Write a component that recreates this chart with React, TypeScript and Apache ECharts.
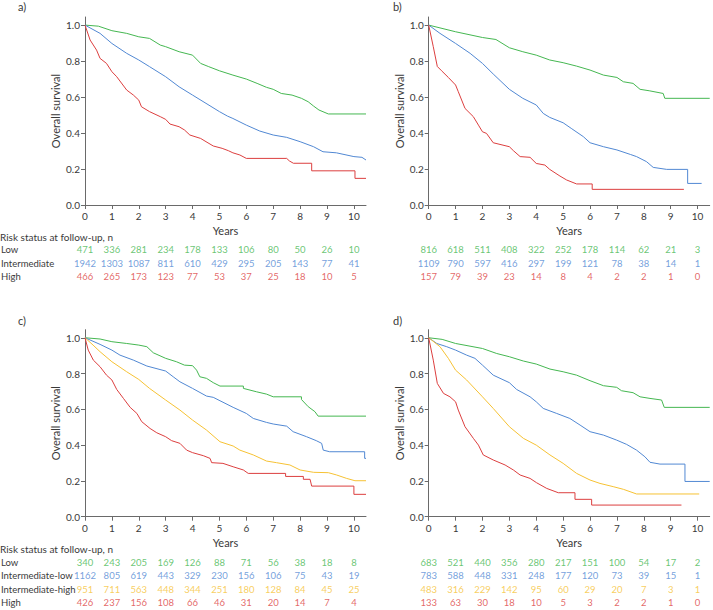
import React, { useEffect, useRef } from "react";
import * as echarts from "echarts";

// ---------- axis ticks ----------
const yearTicks = [0, 1, 2, 3, 4, 5, 6, 7, 8, 9, 10];
const survTicks = [0, 0.2, 0.4, 0.6, 0.8, 1.0];

// ---------- panel a curves [years, survival] ----------
const aLow = [[0,1],[0.5,0.994],[1,0.969],[1.55,0.954],[2,0.935],[2.4,0.926],[2.8,0.889],[3,0.88],[3.5,0.852],[4,0.833],[4.3,0.787],[4.6,0.769],[5,0.746],[5.5,0.722],[6,0.7],[6.4,0.676],[6.75,0.654],[7,0.643],[7.3,0.62],[7.7,0.611],[8.05,0.593],[8.3,0.574],[8.5,0.55],[8.7,0.528],[9.05,0.506],[10.45,0.506]];
const aInt = [[0,1],[0.56,0.954],[1,0.898],[1.55,0.843],[2,0.806],[2.4,0.769],[3,0.713],[3.5,0.657],[4,0.611],[4.5,0.565],[5,0.519],[5.3,0.494],[5.5,0.481],[6,0.444],[6.5,0.411],[7,0.389],[7.5,0.376],[8,0.352],[8.5,0.324],[8.85,0.296],[9.35,0.29],[10,0.269],[10.3,0.265],[10.45,0.25]];
const aHigh = [[0,1],[0.19,0.917],[0.43,0.861],[0.56,0.815],[0.8,0.787],[1,0.741],[1.18,0.713],[1.55,0.639],[1.8,0.611],[2,0.583],[2.1,0.546],[2.4,0.519],[2.8,0.491],[3,0.476],[3.16,0.45],[3.5,0.435],[3.7,0.417],[3.9,0.389],[4.3,0.37],[4.5,0.352],[4.77,0.328],[5.1,0.315],[5.33,0.302],[5.5,0.29],[5.76,0.278],[6,0.259],[7.5,0.259],[7.6,0.245],[7.75,0.232],[8.43,0.232],[8.43,0.19],[10.04,0.19],[10.04,0.148],[10.45,0.148]];

// ---------- panel b curves ----------
const bLow = [[0,1],[1,0.963],[2,0.931],[2.5,0.92],[3,0.874],[3.5,0.852],[4,0.833],[4.5,0.806],[5,0.791],[5.5,0.772],[6,0.75],[6.5,0.722],[7,0.709],[7.24,0.685],[7.6,0.676],[7.86,0.643],[8.2,0.635],[8.72,0.62],[8.78,0.593],[10.45,0.593]];
const bInt = [[0,1],[0.42,0.954],[1,0.898],[1.54,0.843],[2,0.787],[2.4,0.728],[3,0.643],[3.5,0.593],[4,0.556],[4.26,0.509],[4.5,0.487],[5,0.457],[5.3,0.426],[5.75,0.38],[6,0.346],[6.5,0.324],[7,0.306],[7.5,0.281],[7.73,0.269],[8.1,0.241],[8.35,0.209],[8.85,0.198],[9.63,0.198],[9.63,0.12],[10.15,0.12]];
const bHigh = [[0,1],[0.17,0.88],[0.32,0.77],[0.48,0.746],[0.73,0.709],[1,0.667],[1.1,0.63],[1.35,0.537],[1.66,0.491],[1.85,0.444],[2,0.407],[2.15,0.398],[2.4,0.346],[3,0.324],[3.15,0.302],[3.4,0.269],[3.77,0.265],[4,0.231],[4.32,0.222],[4.5,0.198],[4.88,0.161],[5.13,0.139],[5.5,0.117],[6.08,0.117],[6.08,0.087],[9.49,0.087]];

// ---------- panel c curves ----------
const cLow = [[0,1],[0.56,0.993],[1,0.978],[1.55,0.968],[2,0.959],[2.3,0.95],[2.54,0.916],[3,0.885],[3.4,0.866],[3.7,0.847],[4,0.844],[4.15,0.819],[4.27,0.782],[4.52,0.773],[4.77,0.749],[5.02,0.73],[5.89,0.73],[5.89,0.717],[6.38,0.698],[6.75,0.685],[7,0.67],[8.05,0.67],[8.05,0.655],[8.3,0.615],[8.55,0.587],[8.67,0.562],[10.45,0.562]];
const cIntLow = [[0,1],[0.56,0.963],[1,0.931],[1.3,0.903],[1.8,0.875],[2.3,0.842],[3,0.814],[3.28,0.782],[3.53,0.754],[4,0.717],[4.52,0.674],[4.77,0.667],[5.02,0.648],[5.51,0.611],[6,0.577],[6.26,0.549],[6.75,0.527],[7,0.518],[7.5,0.506],[7.74,0.475],[8.24,0.447],[8.6,0.425],[8.8,0.41],[8.86,0.372],[9.1,0.363],[10.4,0.363],[10.4,0.326],[10.45,0.326]];
const cIntHigh = [[0,1],[0.3,0.959],[0.56,0.922],[1,0.866],[1.55,0.81],[2,0.767],[2.4,0.717],[3,0.652],[3.53,0.596],[4,0.54],[4.52,0.484],[5.02,0.419],[5.51,0.395],[5.76,0.372],[6.26,0.345],[6.75,0.311],[7.12,0.302],[7.62,0.289],[8,0.261],[8.5,0.248],[9.05,0.246],[9.36,0.233],[9.73,0.214],[10.04,0.201],[10.45,0.201]];
const cHigh = [[0,1],[0.12,0.931],[0.31,0.875],[0.56,0.838],[0.8,0.791],[1,0.764],[1.18,0.711],[1.43,0.661],[1.68,0.611],[1.93,0.577],[2.11,0.531],[2.42,0.493],[2.67,0.469],[3,0.447],[3.22,0.425],[3.53,0.41],[3.78,0.372],[4,0.358],[4.4,0.341],[4.65,0.326],[4.71,0.302],[5.13,0.298],[5.51,0.279],[5.89,0.261],[6.07,0.242],[7.46,0.242],[7.46,0.225],[8.12,0.225],[8.12,0.209],[8.37,0.209],[8.43,0.171],[10,0.171],[10,0.125],[10.45,0.125]];

// ---------- panel d curves ----------
const dLow = [[0,1],[0.5,0.991],[1,0.968],[2,0.94],[2.53,0.912],[3,0.894],[3.52,0.87],[4,0.853],[4.51,0.825],[5,0.81],[5.5,0.791],[6,0.76],[6.5,0.732],[6.99,0.723],[7.17,0.704],[7.6,0.693],[7.86,0.67],[8.23,0.661],[8.66,0.652],[8.76,0.611],[10.45,0.611]];
const dIntLow = [[0,1],[0.3,0.968],[0.67,0.95],[1,0.931],[1.41,0.903],[1.72,0.885],[2,0.847],[2.4,0.791],[3,0.749],[3.27,0.711],[3.77,0.67],[4,0.642],[4.26,0.605],[4.76,0.577],[5.25,0.549],[5.63,0.512],[6,0.475],[6.5,0.456],[6.99,0.428],[7.36,0.404],[7.73,0.372],[8.04,0.335],[8.23,0.304],[8.6,0.294],[9.53,0.294],[9.53,0.197],[10.45,0.197]];
const dIntHigh = [[0,1],[0.42,0.95],[0.73,0.885],[1,0.819],[1.41,0.764],[2,0.67],[2.4,0.605],[3,0.503],[3.52,0.438],[4,0.4],[4.51,0.345],[5,0.298],[5.5,0.242],[6,0.205],[6.37,0.186],[6.86,0.168],[7.24,0.153],[7.73,0.127],[10.06,0.127]];
const dHigh = [[0,1],[0.17,0.875],[0.32,0.745],[0.55,0.689],[0.79,0.67],[1,0.642],[1.1,0.596],[1.35,0.503],[1.66,0.438],[1.85,0.4],[2.03,0.345],[2.4,0.317],[2.84,0.289],[3.15,0.261],[3.4,0.233],[3.77,0.214],[4.01,0.19],[4.39,0.158],[4.82,0.134],[5.44,0.134],[5.44,0.097],[6.06,0.097],[6.06,0.065],[9.4,0.065]];

// ---------- risk tables (numbers at risk at years 0..10) ----------
const rowsAB = ["Low", "Intermediate", "High"];
const rowsCD = ["Low", "Intermediate-low", "Intermediate-high", "High"];
const riskALow = [471, 336, 281, 234, 178, 133, 106, 80, 50, 26, 10];
const riskAInt = [1942, 1303, 1087, 811, 610, 429, 295, 205, 143, 77, 41];
const riskAHigh = [466, 265, 173, 123, 77, 53, 37, 25, 18, 10, 5];
const riskBLow = [816, 618, 511, 408, 322, 252, 178, 114, 62, 21, 3];
const riskBInt = [1109, 790, 597, 416, 297, 199, 121, 78, 38, 14, 1];
const riskBHigh = [157, 79, 39, 23, 14, 8, 4, 2, 2, 1, 0];
const riskCLow = [340, 243, 205, 169, 126, 88, 71, 56, 38, 18, 8];
const riskCIntLow = [1162, 805, 619, 443, 329, 230, 156, 106, 75, 43, 19];
const riskCIntHigh = [951, 711, 563, 448, 344, 251, 180, 128, 84, 45, 25];
const riskCHigh = [426, 237, 156, 108, 66, 46, 31, 20, 14, 7, 4];
const riskDLow = [683, 521, 440, 356, 280, 217, 151, 100, 54, 17, 2];
const riskDIntLow = [783, 588, 448, 331, 248, 177, 120, 73, 39, 15, 1];
const riskDIntHigh = [483, 316, 229, 142, 95, 60, 29, 20, 7, 3, 1];
const riskDHigh = [133, 63, 30, 18, 10, 5, 3, 2, 2, 1, 0];

const GREEN = "#45b751";
const BLUE = "#5188d3";
const YELLOW = "#f6c234";
const RED = "#dc3f3f";
const FONT = "Lato, 'Noto Sans', sans-serif";
const TXT = "#3a3a3a";
const AX = "#6a6a6a";

export default function App() {
  const ref = useRef<HTMLDivElement>(null);
  useEffect(() => {
    if (!ref.current) return;
    const chart = echarts.init(ref.current, undefined, { renderer: "svg" });

    const XMAX = 10.45;
    const YMAX = 1.045;
    const LEFT_L = 85;
    const LEFT_R = 428.7;
    const W = 281;
    const plotGrids = [
      { left: LEFT_L, top: 17, width: W, height: 188 },
      { left: LEFT_R, top: 17, width: W, height: 188 },
      { left: LEFT_L, top: 329.7, width: W, height: 187 },
      { left: LEFT_R, top: 329.7, width: W, height: 187 },
    ];
    const tableGrids = [
      { left: LEFT_L, top: 243.3, width: W, height: 40 },
      { left: LEFT_R, top: 243.3, width: W, height: 40 },
      { left: LEFT_L, top: 555.6, width: W, height: 53.8 },
      { left: LEFT_R, top: 555.6, width: W, height: 53.8 },
    ];
    const grid = [...plotGrids, ...tableGrids].map((g) => ({
      ...g,
      containLabel: false,
      outerBoundsMode: "none",
    }));

    const xAxis: any[] = [];
    const yAxis: any[] = [];
    for (let i = 0; i < 4; i++) {
      xAxis.push({
        type: "value",
        gridIndex: i,
        min: 0,
        max: XMAX,
        name: "Years",
        nameLocation: "middle",
        nameGap: 20,
        nameTextStyle: { fontFamily: FONT, fontSize: 11, color: TXT },
        splitLine: { show: false },
        axisLine: { show: true, onZero: false, lineStyle: { color: AX, width: 1 } },
        axisTick: { show: true, length: 4, lineStyle: { color: AX }, customValues: yearTicks },
        axisLabel: { margin: 6, fontFamily: FONT, fontSize: 10, color: TXT, customValues: yearTicks },
      });
      yAxis.push({
        type: "value",
        gridIndex: i,
        min: 0,
        max: YMAX,
        name: "Overall survival",
        nameLocation: "middle",
        nameGap: 24,
        nameTextStyle: { fontFamily: FONT, fontSize: 11, color: TXT },
        splitLine: { show: false },
        axisLine: { show: true, onZero: false, lineStyle: { color: AX, width: 1 } },
        axisTick: { show: true, length: 4, lineStyle: { color: AX }, customValues: survTicks },
        axisLabel: {
          margin: 5,
          fontFamily: FONT,
          fontSize: 10,
          color: TXT,
          customValues: survTicks,
          formatter: (v: number) => v.toFixed(1),
        },
      });
    }
    for (let i = 0; i < 4; i++) {
      const rows = i < 2 ? rowsAB : rowsCD;
      xAxis.push({ type: "value", gridIndex: 4 + i, min: 0, max: XMAX, show: false });
      yAxis.push({
        type: "category",
        gridIndex: 4 + i,
        data: rows,
        inverse: true,
        axisLine: { show: false },
        axisTick: { show: false },
        splitLine: { show: false },
        axisLabel: {
          show: i % 2 === 0,
          align: "left",
          margin: 84,
          fontFamily: FONT,
          fontSize: 9.5,
          color: TXT,
        },
      });
    }

    const curve = (data: number[][], color: string, idx: number) => ({
      type: "line",
      xAxisIndex: idx,
      yAxisIndex: idx,
      data,
      showSymbol: false,
      symbol: "none",
      silent: true,
      lineStyle: { color, width: 1 },
      itemStyle: { color },
    });

    const risk = (vals: number[], row: string, color: string, idx: number) => ({
      type: "scatter",
      xAxisIndex: idx,
      yAxisIndex: idx,
      symbolSize: 1,
      silent: true,
      itemStyle: { color: "rgba(0,0,0,0)" },
      data: vals.map((v, k) => [yearTicks[k], row, v]),
      label: {
        show: true,
        position: "inside",
        formatter: (p: any) => String(p.value[2]),
        fontFamily: FONT,
        fontSize: 9.5,
        color,
      },
    });

    const series = [
      curve(aLow, GREEN, 0),
      curve(aInt, BLUE, 0),
      curve(aHigh, RED, 0),
      curve(bLow, GREEN, 1),
      curve(bInt, BLUE, 1),
      curve(bHigh, RED, 1),
      curve(cLow, GREEN, 2),
      curve(cIntLow, BLUE, 2),
      curve(cIntHigh, YELLOW, 2),
      curve(cHigh, RED, 2),
      curve(dLow, GREEN, 3),
      curve(dIntLow, BLUE, 3),
      curve(dIntHigh, YELLOW, 3),
      curve(dHigh, RED, 3),
      risk(riskALow, "Low", GREEN, 4),
      risk(riskAInt, "Intermediate", BLUE, 4),
      risk(riskAHigh, "High", RED, 4),
      risk(riskBLow, "Low", GREEN, 5),
      risk(riskBInt, "Intermediate", BLUE, 5),
      risk(riskBHigh, "High", RED, 5),
      risk(riskCLow, "Low", GREEN, 6),
      risk(riskCIntLow, "Intermediate-low", BLUE, 6),
      risk(riskCIntHigh, "Intermediate-high", YELLOW, 6),
      risk(riskCHigh, "High", RED, 6),
      risk(riskDLow, "Low", GREEN, 7),
      risk(riskDIntLow, "Intermediate-low", BLUE, 7),
      risk(riskDIntHigh, "Intermediate-high", YELLOW, 7),
      risk(riskDHigh, "High", RED, 7),
    ];

    const txt = (x: number, y: number, text: string, size = 10) => ({
      type: "text",
      x,
      y,
      silent: true,
      style: { text, fontFamily: FONT, fontSize: size, fill: TXT, align: "left", verticalAlign: "middle" },
    });

    chart.setOption({
      animation: false,
      backgroundColor: "#ffffff",
      grid,
      xAxis,
      yAxis,
      series,
      graphic: [
        txt(18, 6.5, "a)", 11),
        txt(393, 6.5, "b)", 11),
        txt(18, 320.7, "c)", 11),
        txt(393, 320.7, "d)", 11),
        txt(0, 237.3, "Risk status at follow-up, n"),
        txt(0, 549, "Risk status at follow-up, n"),
      ],
    });
    return () => chart.dispose();
  }, []);
  return (
    <div
      ref={ref}
      style={{ position: "absolute", left: 0, top: 0, width: 713, height: 610, background: "#fff" }}
    />
  );
}
